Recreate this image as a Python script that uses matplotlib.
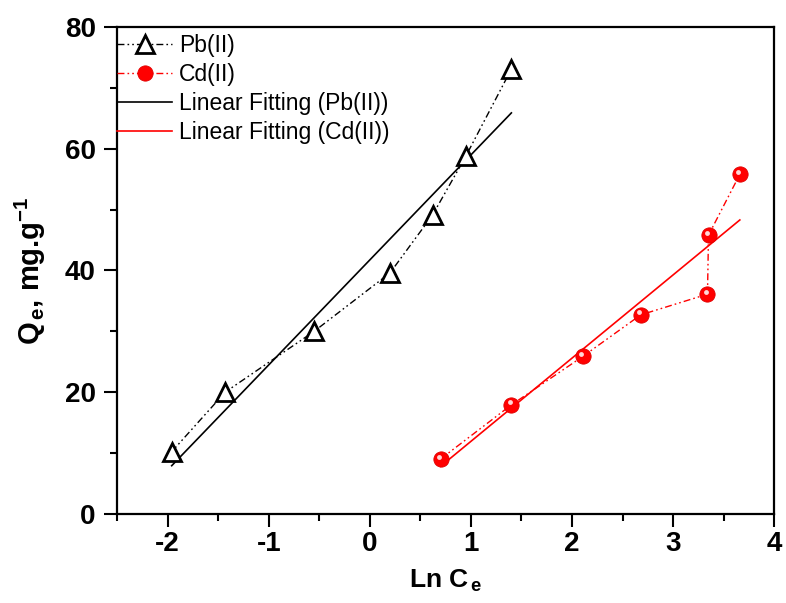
import matplotlib
matplotlib.use("Agg")
import matplotlib.pyplot as plt
from matplotlib.ticker import MultipleLocator
import matplotlib.transforms as mtransforms

plt.rcParams['font.family'] = ['Liberation Sans', 'DejaVu Sans']
plt.rcParams['mathtext.fontset'] = 'custom'
plt.rcParams['mathtext.rm'] = 'Liberation Sans'
plt.rcParams['mathtext.bf'] = 'Liberation Sans:bold'
plt.rcParams['mathtext.it'] = 'Liberation Sans:italic'
plt.rcParams['axes.unicode_minus'] = False

# Data
pb_x = [-1.96, -1.43, -0.55, 0.20, 0.62, 0.95, 1.40]
pb_y = [10.2, 20.0, 30.0, 39.6, 49.1, 58.8, 73.1]
cd_x = [0.70, 1.40, 2.11, 2.68, 3.34, 3.35, 3.66]
cd_y = [9.0, 17.9, 25.9, 32.7, 36.1, 45.8, 55.8]
pb_fit_x = [-1.96, 1.40]
pb_fit_y = [7.9, 65.9]
cd_fit_x = [0.70, 3.66]
cd_fit_y = [7.8, 48.3]

fig = plt.figure(figsize=(7.86, 6.03), dpi=100)
ax = fig.add_axes([0.149, 0.148, 0.836, 0.807])

dashdotdot = (0, (5, 2.2, 1.2, 2.2, 1.2, 2.2))
ax.plot(pb_x, pb_y, color='black', lw=1.0, linestyle=dashdotdot, marker='^',
        markersize=12.5, markerfacecolor='white', markeredgecolor='black',
        markeredgewidth=2.0, label='Pb(II)', zorder=3)
ax.plot(cd_x, cd_y, color='red', lw=1.0, linestyle=dashdotdot, marker='o',
        markersize=11, markerfacecolor='red', markeredgecolor='#e00000',
        markeredgewidth=0.6, label='Cd(II)', zorder=3)
# highlight on spheres
hl = mtransforms.offset_copy(ax.transData, fig=fig, x=-1.3, y=1.8, units='points')
ax.plot(cd_x, cd_y, linestyle='none', marker='o', markersize=3.5,
        markerfacecolor='#ffd6d6', markeredgecolor='none', transform=hl, zorder=4)
ax.plot(pb_fit_x, pb_fit_y, color='black', lw=1.2, label='Linear Fitting (Pb(II))', zorder=2)
ax.plot(cd_fit_x, cd_fit_y, color='red', lw=1.2, label='Linear Fitting (Cd(II))', zorder=2)

ax.set_xlim(-2.5, 4)
ax.set_ylim(0, 80)
ax.xaxis.set_major_locator(MultipleLocator(1))
ax.xaxis.set_minor_locator(MultipleLocator(0.5))
ax.yaxis.set_major_locator(MultipleLocator(20))
ax.yaxis.set_minor_locator(MultipleLocator(10))
ax.tick_params(which='major', direction='out', length=9.4, width=1.5, labelsize=20)
ax.tick_params(which='minor', direction='out', length=5, width=1.5)
ax.tick_params(axis='x', which='major', pad=3)
ax.tick_params(axis='y', which='major', pad=6)
ax.tick_params(top=False, right=False)
for lab in ax.get_xticklabels() + ax.get_yticklabels():
    lab.set_fontweight('bold')
for s in ax.spines.values():
    s.set_linewidth(1.6)

ax.set_xlabel(r'Ln C$_{\,\mathbf{e}}$', fontsize=19, fontweight='bold', labelpad=8)
ax.set_ylabel(r'Q$_{\,\mathbf{e}}$, mg.g$^{\mathbf{-1}}$', fontsize=21, fontweight='bold', labelpad=12)

leg = ax.legend(loc='upper left', frameon=False, fontsize=16.5, handlelength=2.4,
                handletextpad=0.3, borderpad=0.0, borderaxespad=0.0, labelspacing=0.26,
                bbox_to_anchor=(0.0, 0.985))

fig.savefig('out.png', dpi=100)
